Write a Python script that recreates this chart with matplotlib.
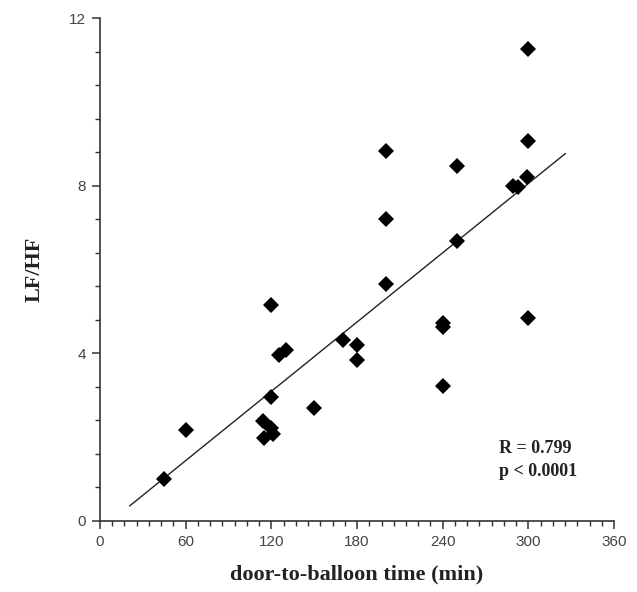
import numpy as np
import matplotlib
matplotlib.use("Agg")
import matplotlib.pyplot as plt
from matplotlib.ticker import MultipleLocator, FixedLocator

# Data
time_min = [45, 60, 114, 120, 121, 115, 120, 120, 125, 130, 150, 170, 180, 180,
            200, 200, 200, 240, 240, 240, 250, 250, 289, 293, 299, 300, 300, 300]
lf_hf = [0.99, 2.17, 2.38, 2.22, 2.08, 1.98, 2.95, 5.16, 3.96, 4.08, 2.70, 4.32, 4.20, 3.84,
         8.84, 7.22, 5.65, 4.72, 4.62, 3.22, 8.47, 6.69, 8.00, 7.97, 8.22, 11.27, 9.08, 4.84]
fit_x = [20.8, 325.8]
fit_y = [0.36, 8.77]

x_ticks = [0, 60, 120, 180, 240, 300, 360]
y_ticks = [0, 4, 8, 12]

fig = plt.figure(figsize=(6.37, 5.92), dpi=100)
ax = fig.add_axes([0.157, 0.12, 0.807, 0.849])

ax.plot(fit_x, fit_y, color="#222222", lw=1.0, zorder=2)
ax.plot(time_min, lf_hf, linestyle="none", marker="D", ms=8.5, color="black",
        markeredgewidth=0, zorder=3)

ax.set_xlim(0, 360)
ax.set_ylim(0, 12)
ax.xaxis.set_major_locator(FixedLocator(x_ticks))
ax.yaxis.set_major_locator(FixedLocator(y_ticks))
ax.xaxis.set_minor_locator(FixedLocator(list(np.arange(0, 361, 60 / 7))))
ax.yaxis.set_minor_locator(MultipleLocator(0.8))

for s in ["top", "right"]:
    ax.spines[s].set_visible(False)
for s in ["left", "bottom"]:
    ax.spines[s].set_linewidth(1.2)
    ax.spines[s].set_color("#333333")

tick_font = {"family": "Liberation Sans", "size": 11}
ax.set_xticklabels([str(v) for v in x_ticks], fontdict=tick_font, color="#444444")
ax.set_yticklabels([str(v) for v in y_ticks], fontdict=tick_font, color="#444444")
ax.tick_params(which="major", direction="out", length=6, width=1.1, color="#333333", pad=4)
ax.tick_params(which="minor", direction="out", length=3.5, width=1.0, color="#333333")

lab_font = {"family": "Liberation Serif", "size": 16, "weight": "bold"}
ax.set_xlabel("door-to-balloon time (min)", fontdict=lab_font, labelpad=11, color="#222222")
ax.set_ylabel("LF/HF", fontdict=lab_font, labelpad=18, color="#222222")

ax.text(0.777, 0.121, "R = 0.799\np < 0.0001", transform=ax.transAxes,
        fontfamily="Liberation Serif", fontweight="bold", fontsize=13,
        color="#222222", linespacing=1.45, va="center", ha="left")

fig.savefig("out.png", dpi=100)
